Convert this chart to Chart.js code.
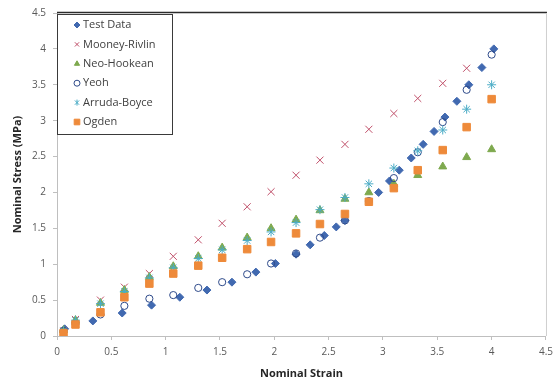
<!DOCTYPE html>
<html>
<head>
<meta charset="utf-8">
<script src="https://cdn.jsdelivr.net/npm/chart.js@4/dist/chart.umd.min.js"></script>
<style>
html,body{margin:0;padding:0;background:#fff;}
#wrap{width:559px;height:380px;position:relative;}
</style>
</head>
<body>
<div id="wrap"><canvas id="c" width="559" height="380"></canvas></div>
<script>
// ---- data ----
const testStrain = [0.07, 0.33, 0.60, 0.87, 1.13, 1.38, 1.61, 1.83, 2.01, 2.20, 2.33, 2.46, 2.57, 2.65, 2.96, 3.06, 3.15, 3.26, 3.37, 3.47, 3.57, 3.68, 3.79, 3.91, 4.02];
const testStress = [0.10, 0.21, 0.32, 0.43, 0.54, 0.64, 0.75, 0.89, 1.01, 1.14, 1.27, 1.40, 1.52, 1.61, 2.00, 2.16, 2.31, 2.48, 2.67, 2.85, 3.05, 3.27, 3.50, 3.74, 4.00];

const modelStrain = [0.06, 0.17, 0.40, 0.62, 0.85, 1.07, 1.30, 1.52, 1.75, 1.97, 2.20, 2.42, 2.65, 2.87, 3.10, 3.32, 3.55, 3.77, 4.00];
const mooneyRivlin = [0.07, 0.23, 0.50, 0.68, 0.87, 1.11, 1.34, 1.57, 1.80, 2.01, 2.24, 2.45, 2.67, 2.88, 3.10, 3.31, 3.52, 3.73, null];
const neoHookean  = [0.08, 0.22, 0.46, 0.64, 0.82, 0.97, 1.11, 1.23, 1.37, 1.50, 1.62, 1.75, 1.91, 2.00, 2.12, 2.24, 2.36, 2.49, 2.60];
const yeoh        = [0.07, 0.17, 0.30, 0.42, 0.52, 0.57, 0.67, 0.75, 0.86, 1.01, 1.15, 1.37, 1.61, 1.88, 2.20, 2.56, 2.98, 3.43, 3.92];
const arrudaBoyce = [0.07, 0.22, 0.45, 0.62, 0.81, 0.95, 1.08, 1.20, 1.33, 1.45, 1.58, 1.76, 1.93, 2.12, 2.34, 2.58, 2.87, 3.16, 3.50];
const ogden       = [0.04, 0.16, 0.33, 0.54, 0.73, 0.87, 0.98, 1.09, 1.21, 1.31, 1.43, 1.56, 1.70, 1.87, 2.06, 2.31, 2.59, 2.91, 3.30];

const seriesNames = ['Test Data', 'Mooney-Rivlin', 'Neo-Hookean', 'Yeoh', 'Arruda-Boyce', 'Ogden'];
const xTitle = 'Nominal Strain';
const yTitle = 'Nominal Stress (MPa)';
const axisMin = 0, axisMax = 4.5, axisStep = 0.5;

// ---- styles ----
const styles = [
  {pointStyle:'rectRot', radius:4,   color:'#4169B0', fill:'#4169B0', bw:1},
  {pointStyle:'crossRot',radius:5,   color:'#C0506A', fill:'#C0506A', bw:1},
  {pointStyle:'triangle',radius:4.6, color:'#7EA94E', fill:'#7EA94E', bw:1},
  {pointStyle:'circle',  radius:3.6, color:'#2E4A8A', fill:'rgba(255,255,255,0)', bw:1},
  {pointStyle:'star',    radius:4.5, color:'#4BACC6', fill:'#4BACC6', bw:1},
  {pointStyle:'rect',    radius:5.3, color:'#EE8A3A', fill:'#EE8A3A', bw:1}
];

function pts(xs, ys){ const out=[]; for(let i=0;i<xs.length;i++){ if(ys[i]!==null) out.push({x:xs[i], y:ys[i]}); } return out; }
const seriesData = [
  pts(testStrain, testStress),
  pts(modelStrain, mooneyRivlin),
  pts(modelStrain, neoHookean),
  pts(modelStrain, yeoh),
  pts(modelStrain, arrudaBoyce),
  pts(modelStrain, ogden)
];

const datasets = seriesNames.map((n,i)=>({
  label:n,
  data:seriesData[i],
  showLine:false,
  pointStyle:styles[i].pointStyle,
  pointRadius:styles[i].radius,
  pointHoverRadius:styles[i].radius,
  pointBorderColor:styles[i].color,
  pointBackgroundColor:styles[i].fill,
  pointBorderWidth:styles[i].bw,
  order:6-i
}));

function drawMarker(ctx, st, x, y, r){
  ctx.save();
  ctx.strokeStyle = st.color; ctx.fillStyle = st.fill; ctx.lineWidth = 1;
  ctx.beginPath();
  switch(st.pointStyle){
    case 'rectRot': ctx.moveTo(x, y-r); ctx.lineTo(x+r, y); ctx.lineTo(x, y+r); ctx.lineTo(x-r, y); ctx.closePath(); ctx.fill(); ctx.stroke(); break;
    case 'crossRot': { const o=r*0.707; ctx.moveTo(x-o,y-o); ctx.lineTo(x+o,y+o); ctx.moveTo(x+o,y-o); ctx.lineTo(x-o,y+o); ctx.stroke(); break; }
    case 'triangle': ctx.moveTo(x, y-r); ctx.lineTo(x+r*0.866, y+r*0.5); ctx.lineTo(x-r*0.866, y+r*0.5); ctx.closePath(); ctx.fill(); ctx.stroke(); break;
    case 'circle': ctx.arc(x,y,r,0,Math.PI*2); ctx.stroke(); break;
    case 'star': { const o=r*0.707; ctx.moveTo(x-o,y-o); ctx.lineTo(x+o,y+o); ctx.moveTo(x+o,y-o); ctx.lineTo(x-o,y+o); ctx.moveTo(x,y-r); ctx.lineTo(x,y+r); ctx.stroke(); break; }
    case 'rect': { const o=r*0.707; ctx.rect(x-o,y-o,2*o,2*o); ctx.fill(); ctx.stroke(); break; }
  }
  ctx.restore();
}

const framePlugin = {
  id:'frame',
  afterDraw(chart){
    const ctx = chart.ctx, a = chart.chartArea;
    ctx.save();
    // top border
    ctx.strokeStyle = '#2b2b2b'; ctx.lineWidth = 1.5;
    ctx.beginPath(); ctx.moveTo(a.left, a.top - 0.5); ctx.lineTo(a.right + 1, a.top - 0.5); ctx.stroke();
    // right border
    ctx.strokeStyle = '#cfcfcf'; ctx.lineWidth = 1;
    ctx.beginPath(); ctx.moveTo(a.right + 0.5, a.top); ctx.lineTo(a.right + 0.5, a.bottom); ctx.stroke();
    // legend box
    const bx = a.left + 0.5, by = a.top + 1.5, bw = 115, bh = 120;
    ctx.fillStyle = '#ffffff'; ctx.fillRect(bx, by, bw, bh);
    ctx.strokeStyle = '#3a3a3a'; ctx.lineWidth = 1;
    ctx.strokeRect(bx, by, bw, bh);
    ctx.font = '11px "Open Sans", "Liberation Sans", sans-serif';
    ctx.fillStyle = '#404040'; ctx.textBaseline = 'middle'; ctx.textAlign = 'left';
    seriesNames.forEach((n,i)=>{
      const y = a.top + 12 + i*19.4;
      const st = styles[i];
      const small = {pointStyle:st.pointStyle, color:st.color, fill:st.fill};
      drawMarker(ctx, small, a.left + 20, y, st.pointStyle==='rect'?4:3);
      ctx.fillStyle = '#404040';
      ctx.fillText(n, a.left + 26, y);
    });
    ctx.restore();
  }
};

const tickFont = {family:'"Open Sans", "Liberation Sans", sans-serif', size:10};
const titleFont = {family:'"Open Sans", "Liberation Sans", sans-serif', size:11, weight:'bold'};

new Chart(document.getElementById('c'), {
  type:'scatter',
  data:{datasets},
  options:{
    responsive:false,
    animation:false,
    layout:{padding:{top:9, right:9, left:0, bottom:0}},
    plugins:{legend:{display:false}, tooltip:{enabled:false}},
    scales:{
      x:{
        type:'linear', min:axisMin, max:axisMax,
        ticks:{stepSize:axisStep, color:'#595959', font:tickFont, padding:6, maxRotation:0,
               callback:v=>String(v)},
        grid:{display:true, drawOnChartArea:false, drawTicks:true, tickLength:4, color:'#bfbfbf'},
        border:{color:'#bfbfbf', width:1},
        title:{display:true, text:xTitle, color:'#262626', font:titleFont, padding:{top:5, bottom:0}},
        afterFit(s){ s.height = 44; }
      },
      y:{
        type:'linear', min:axisMin, max:axisMax,
        ticks:{stepSize:axisStep, color:'#595959', font:tickFont, padding:7,
               callback:v=>String(v)},
        grid:{display:true, drawOnChartArea:false, drawTicks:true, tickLength:4, color:'#bfbfbf'},
        border:{color:'#bfbfbf', width:1},
        title:{display:true, text:yTitle, color:'#262626', font:titleFont, padding:{top:11, bottom:0}},
        afterFit(s){ s.width = 57; }
      }
    }
  },
  plugins:[framePlugin]
});
</script>
</body>
</html>
